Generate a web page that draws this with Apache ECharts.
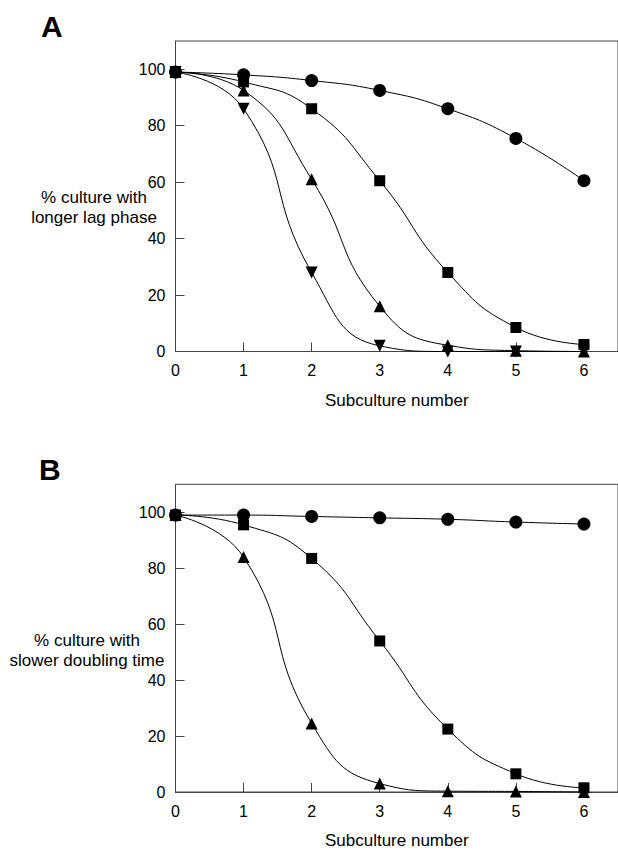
<!DOCTYPE html>
<html>
<head>
<meta charset="utf-8">
<script src="https://cdn.jsdelivr.net/npm/echarts@6/dist/echarts.min.js"></script>
<style>
html,body{margin:0;padding:0;background:#fff;}
#chart{width:618px;height:850px;}
</style>
</head>
<body>
<div id="chart"></div>
<script>
// Subculture numbers
const subculture = [0, 1, 2, 3, 4, 5, 6];
const xTickValues = [0, 1, 2, 3, 4, 5, 6];
const yTickValues = [0, 20, 40, 60, 80, 100];

// Panel A: % culture with longer lag phase
const lagCircle   = [99, 98, 96, 92.5, 86, 75.5, 60.5];
const lagSquare   = [99, 95.5, 86, 60.5, 28, 8.5, 2.5];
const lagTriUp    = [99, 92.5, 61, 16, 2.2, 0.3, 0];
const lagTriDown  = [99, 86, 28, 2, 0, 0, 0];

// Panel B: % culture with slower doubling time
const dblCircle   = [99, 99, 98.5, 98, 97.5, 96.5, 95.8];
const dblSquare   = [99, 95.5, 83.5, 54, 22.5, 6.5, 1.5];
const dblTri      = [99, 84, 24.5, 3, 0.3, 0.2, 0];

const FONT = 'Liberation Sans, Arial, Helvetica, sans-serif';

function pairs(vals) { return subculture.map((x, i) => [x, vals[i]]); }

function xAxis(gridIndex) {
  return {
    type: 'value', gridIndex, min: 0, max: 6.5, interval: 1,
    name: 'Subculture number', nameLocation: 'middle', nameGap: 40,
    nameTextStyle: { fontFamily: FONT, fontSize: 17, color: '#000' },
    axisLine: { show: true, onZero: false, lineStyle: { color: '#444', width: 1 } },
    axisTick: { show: true, inside: true, length: 9, customValues: xTickValues, lineStyle: { color: '#444' } },
    axisLabel: { show: true, margin: 11, customValues: xTickValues, fontFamily: FONT, fontSize: 16, color: '#000' },
    splitLine: { show: false }
  };
}
function yAxis(gridIndex) {
  return {
    type: 'value', gridIndex, min: 0, max: 110, interval: 20,
    axisLine: { show: true, lineStyle: { color: '#444', width: 1 } },
    axisTick: { show: true, inside: true, length: 9, customValues: yTickValues, lineStyle: { color: '#444' } },
    axisLabel: { show: true, margin: 10, customValues: yTickValues, fontFamily: FONT, fontSize: 16, color: '#000' },
    splitLine: { show: false }
  };
}
function line(idx, vals, symbol, size, rotate) {
  return {
    type: 'line', xAxisIndex: idx, yAxisIndex: idx,
    data: pairs(vals),
    smooth: 0.5,
    symbol, symbolSize: size, symbolRotate: rotate || 0,
    showAllSymbol: true, clip: true,
    lineStyle: { color: '#000', width: 1 },
    itemStyle: { color: '#000', borderWidth: 0 },
    emphasis: { disabled: true },
    animation: false
  };
}

const chart = echarts.init(document.getElementById('chart'), null, { renderer: 'svg' });
chart.setOption({
  backgroundColor: '#fff',
  animation: false,
  grid: [
    { left: 175.5, top: 41, width: 443.5, height: 310.5, show: true, borderColor: '#444', borderWidth: 1, backgroundColor: 'transparent' },
    { left: 175.5, top: 484.3, width: 443.5, height: 310, show: true, borderColor: '#444', borderWidth: 1, backgroundColor: 'transparent' }
  ],
  xAxis: [xAxis(0), xAxis(1)],
  yAxis: [yAxis(0), yAxis(1)],
  graphic: [
    { type: 'text', left: 41, top: 11, style: { text: 'A', fontFamily: FONT, fontWeight: 'bold', fontSize: 30, fill: '#000' } },
    { type: 'text', left: 39, top: 454, style: { text: 'B', fontFamily: FONT, fontWeight: 'bold', fontSize: 30, fill: '#000' } },
    { type: 'text', x: 94, y: 207, style: { text: '% culture with\nlonger lag phase', fontFamily: FONT, fontSize: 17, lineHeight: 20, fill: '#000', align: 'center', verticalAlign: 'middle' } },
    { type: 'text', x: 87, y: 650, style: { text: '% culture with\nslower doubling time', fontFamily: FONT, fontSize: 17, lineHeight: 20, fill: '#000', align: 'center', verticalAlign: 'middle' } }
  ],
  series: [
    line(0, lagTriDown, 'triangle', 12, 180),
    line(0, lagTriUp, 'triangle', 12),
    line(0, lagSquare, 'rect', 11),
    line(0, lagCircle, 'circle', 13),
    line(1, dblTri, 'triangle', 12),
    line(1, dblSquare, 'rect', 11),
    line(1, dblCircle, 'circle', 13)
  ]
});
</script>
</body>
</html>
